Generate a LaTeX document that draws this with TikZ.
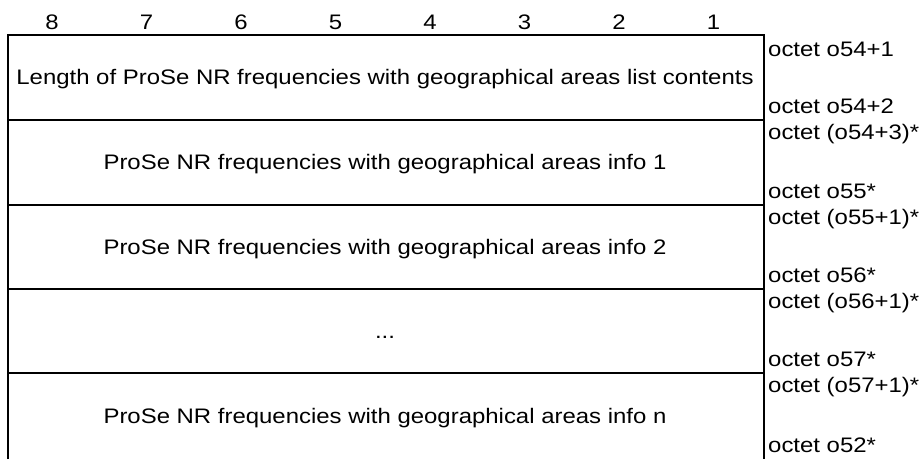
\documentclass[tikz,border=0pt]{standalone}
\usepackage{fontspec}
\setmainfont{Liberation Sans}[FakeStretch=1.14]
\tikzset{
  field/.style={font=\fontsize{21}{25}\selectfont, anchor=base, inner sep=0pt},
  bitnum/.style={field},
  octet/.style={field, anchor=base west},
  frame/.style={line width=1.6pt},
}
\begin{document}
\begin{tikzpicture}[x=1pt,y=1pt]
    \useasboundingbox (0,0) rectangle (921,-459);
    \node[bitnum] (b8) at (52,-29) {8};
    \node[bitnum] (b7) at (146.5,-29) {7};
    \node[bitnum] (b6) at (241,-29) {6};
    \node[bitnum] (b5) at (335.5,-29) {5};
    \node[bitnum] (b4) at (430,-29) {4};
    \node[bitnum] (b3) at (524.5,-29) {3};
    \node[bitnum] (b2) at (619,-29) {2};
    \node[bitnum] (b1) at (713.5,-29) {1};
%    outer frame, open at the bottom
    \draw[frame] (8,-459) -- (8,-35) -- (764,-35) -- (764,-459);
    \draw[frame] (8,-120) -- (764,-120);
    \draw[frame] (8,-205) -- (764,-205);
    \draw[frame] (8,-289) -- (764,-289);
    \draw[frame] (8,-373) -- (764,-373);
    \node[field] (len) at (385,-84) {Length of ProSe NR frequencies with geographical areas list contents};
    \node[octet] (o1a) at (768,-56) {octet o54+1};
    \node[octet] (o1b) at (768,-113) {octet o54+2};
    \node[field] (info1) at (385,-169) {ProSe NR frequencies with geographical areas info 1};
    \node[octet] (o2a) at (768,-139) {octet (o54+3)*};
    \node[octet] (o2b) at (768,-198) {octet o55*};
    \node[field] (info2) at (385,-254) {ProSe NR frequencies with geographical areas info 2};
    \node[octet] (o3a) at (768,-224) {octet (o55+1)*};
    \node[octet] (o3b) at (768,-282) {octet o56*};
    \node[field] (dots) at (385,-338) {...};
    \node[octet] (o4a) at (768,-308) {octet (o56+1)*};
    \node[octet] (o4b) at (768,-366) {octet o57*};
    \node[field] (infon) at (385,-423) {ProSe NR frequencies with geographical areas info n};
    \node[octet] (o5a) at (768,-392) {octet (o57+1)*};
    \node[octet] (o5b) at (768,-452) {octet o52*};
\end{tikzpicture}
\end{document}
